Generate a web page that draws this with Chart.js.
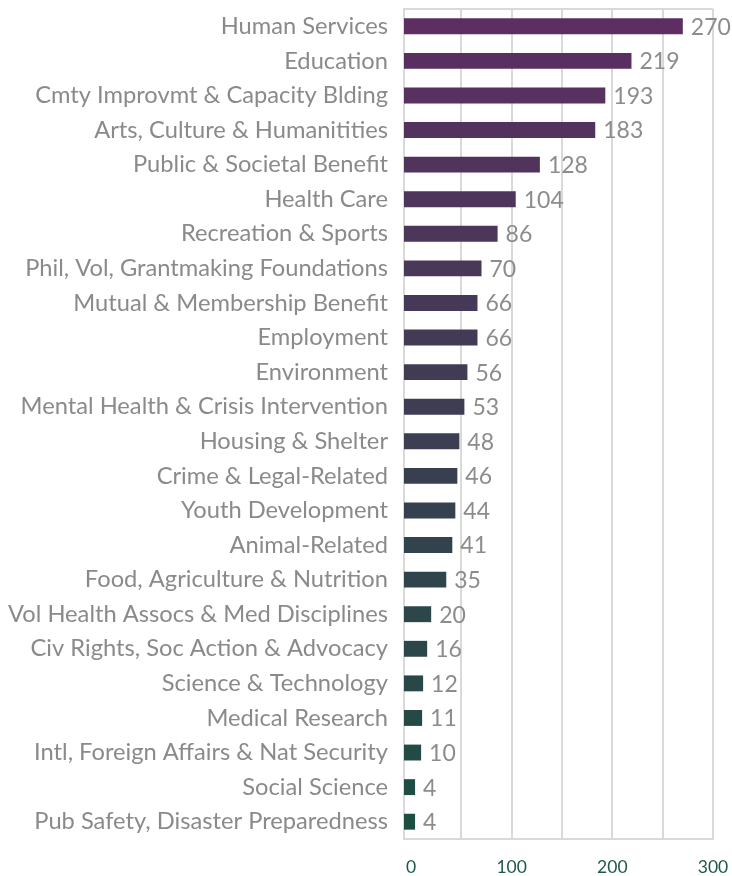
<!DOCTYPE html>
<html>
<head>
<meta charset="utf-8">
<script src="https://cdn.jsdelivr.net/npm/chart.js@4"></script>
<style>
  html, body { margin: 0; padding: 0; background: #fff; }
  #wrap { width: 732px; height: 876px; }
</style>
</head>
<body>
<div id="wrap"><canvas id="myChart" width="732" height="876"></canvas></div>
<script>
const categories = [
  'Human Services',
  'Education',
  'Cmty Improvmt & Capacity Blding',
  'Arts, Culture & Humanitities',
  'Public & Societal Benefit',
  'Health Care',
  'Recreation & Sports',
  'Phil, Vol, Grantmaking Foundations',
  'Mutual & Membership Benefit',
  'Employment',
  'Environment',
  'Mental Health & Crisis Intervention',
  'Housing & Shelter',
  'Crime & Legal-Related',
  'Youth Development',
  'Animal-Related',
  'Food, Agriculture & Nutrition',
  'Vol Health Assocs & Med Disciplines',
  'Civ Rights, Soc Action & Advocacy',
  'Science & Technology',
  'Medical Research',
  'Intl, Foreign Affairs & Nat Security',
  'Social Science',
  'Pub Safety, Disaster Preparedness'
]
const counts = [270, 219, 193, 183, 128, 104, 86, 70, 66, 66, 56, 53, 48, 46, 44, 41, 35, 20, 16, 12, 11, 10, 4, 4]
const tickValues = [0, 50, 100, 150, 200, 250, 300]
const tickLabels = ['0', '', '100', '', '200', '', '300']

// purple at top fading to dark green at the bottom
const purple = [92, 46, 98], green = [29, 78, 66]
const barColors = categories.map((c, i) => {
  const t = i / (categories.length - 1)
  const mix = purple.map((v, k) => Math.round(v + (green[k] - v) * t))
  return 'rgb(' + mix.join(',') + ')'
})

const ctx = document.getElementById('myChart').getContext('2d')

const valueLabels = {
  id: 'valueLabels',
  afterDatasetsDraw(chart) {
    const c = chart.ctx
    const meta = chart.getDatasetMeta(0)
    c.save()
    c.font = '23px Lato'
    c.fillStyle = '#8c8c8c'
    c.textBaseline = 'middle'
    c.textAlign = 'left'
    meta.data.forEach((bar, i) => {
      c.fillText(String(counts[i]), bar.x + 8, bar.y + 1)
    })
    c.restore()
  }
}

const frame = {
  id: 'frame',
  beforeDatasetsDraw(chart) {
    const a = chart.chartArea
    const c = chart.ctx
    c.save()
    c.strokeStyle = '#d9d9d9'
    c.lineWidth = 2
    c.beginPath()
    c.moveTo(a.left, a.top)
    c.lineTo(a.right, a.top)
    c.stroke()
    c.restore()
  }
}

const config = {
  type: 'bar',
  data: {
    labels: categories,
    datasets: [{
      data: counts,
      base: -7,
      backgroundColor: barColors,
      borderWidth: 0,
      barPercentage: 0.92,
      categoryPercentage: 0.5
    }]
  },
  options: {
    indexAxis: 'y',
    responsive: false,
    animation: false,
    layout: { padding: { top: 9, right: 19, left: 0, bottom: 0 } },
    plugins: {
      legend: { display: false },
      tooltip: { enabled: false }
    },
    scales: {
      x: {
        min: -7,
        max: 300,
        afterBuildTicks(scale) {
          scale.ticks = tickValues.map(v => ({ value: v }))
        },
        afterFit(scale) {
          scale.height = 37
          scale.paddingLeft = 0
          scale.paddingRight = 0
        },
        grid: {
          color: c => (c.tick && c.tick.value === 0 ? 'rgba(0,0,0,0)' : '#d9d9d9'),
          lineWidth: 2,
          drawTicks: false
        },
        border: { display: true, color: '#d9d9d9', width: 2 },
        ticks: {
          autoSkip: false,
          maxRotation: 0,
          padding: 18,
          color: '#1f5a47',
          font: { family: 'Lato', size: 17.5 },
          callback: (v, i) => tickLabels[i]
        }
      },
      y: {
        afterFit(scale) {
          scale.width = 404
          scale.paddingTop = 0
          scale.paddingBottom = 0
        },
        grid: { display: false },
        border: { display: true, color: '#d9d9d9', width: 2 },
        ticks: {
          autoSkip: false,
          padding: 8,
          color: '#8a8a8a',
          font: { family: 'Lato', size: 23.7 }
        }
      }
    }
  },
  plugins: [frame, valueLabels]
}

const myChart = new Chart(ctx, config)
</script>
</body>
</html>
